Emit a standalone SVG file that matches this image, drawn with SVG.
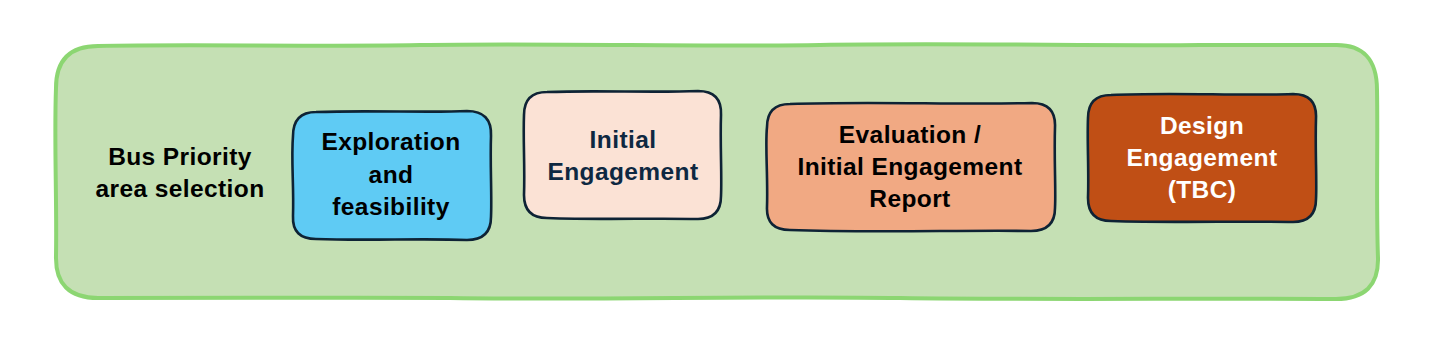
<svg xmlns="http://www.w3.org/2000/svg" width="1440" height="360" viewBox="0 0 1440 360">
<style>
.frame{fill:#C5E0B4;stroke:#8CD672;stroke-width:4;stroke-linejoin:round}
.box{stroke:#0E2335;stroke-width:2.6;stroke-linejoin:round}
.t{font-family:"Liberation Sans",Arial,sans-serif;font-weight:bold;font-size:24.5px;letter-spacing:0.4px;text-anchor:middle}
.dark{fill:#000000}
.navy{fill:#0E2841}
.white{fill:#FFFFFF}
</style>
<rect width="1440" height="360" fill="#FFFFFF"/>
<g id="container">
<path class="frame" d="M98,46 C200,44 300,47 420,45 C560,43 700,47 820,45 C950,43 1100,46 1200,45 L1335,45 Q1377,44 1377,90 C1378,140 1376,200 1378,258 Q1379,299 1336,299 C1200,298 1050,300 900,298 C750,296 600,300 450,298 C330,297 200,299 98,298 Q55,298 56,256 C57,200 54,140 56,88 Q56,46 98,46 Z"/>
</g>
<g id="label-bus-priority">
<text class="t dark" x="180" y="165">Bus Priority</text>
<text class="t dark" x="180" y="197">area selection</text>
</g>
<g id="node-exploration">
<path class="box" fill="#5FCBF4" d="M316,112 C370,110 430,113 467,111 Q492,111 491,136 C490,165 492,195 491,217 Q491,240 467,240 C420,238 370,241 316,239 Q292,239 293,216 C294,185 291,160 293,136 Q293,112 316,112 Z"/>
<text class="t dark" x="391" y="150">Exploration</text>
<text class="t dark" x="391" y="183">and</text>
<text class="t dark" x="391" y="215">feasibility</text>
</g>
<g id="node-initial-engagement">
<path class="box" fill="#FBE2D5" d="M547,92 C600,90 650,93 698,91 Q722,91 721,115 C720,145 722,175 721,196 Q721,219 698,219 C650,218 600,220 547,218 Q524,218 524,195 C525,165 523,140 524,115 Q524,92 547,92 Z"/>
<text class="t navy" x="623" y="148">Initial</text>
<text class="t navy" x="623" y="180">Engagement</text>
</g>
<g id="node-evaluation">
<path class="box" fill="#F1A983" d="M790,104 C870,101 960,105 1032,103 Q1056,103 1055,127 C1054,160 1056,190 1055,208 Q1055,231 1031,231 C960,230 870,233 790,230 Q766,230 767,207 C768,175 765,145 767,127 Q767,104 790,104 Z"/>
<text class="t dark" x="910" y="143">Evaluation /</text>
<text class="t dark" x="910" y="175">Initial Engagement</text>
<text class="t dark" x="910" y="207">Report</text>
</g>
<g id="node-design">
<path class="box" fill="#C04F15" d="M1111,95 C1170,92 1240,96 1293,94 Q1317,94 1316,118 C1315,150 1317,180 1316,199 Q1316,222 1293,222 C1240,221 1170,223 1111,221 Q1088,221 1088,198 C1089,170 1087,140 1088,118 Q1088,95 1111,95 Z"/>
<text class="t white" x="1202" y="134">Design</text>
<text class="t white" x="1202" y="166">Engagement</text>
<text class="t white" x="1202" y="198">(TBC)</text>
</g>
<g id="connectors"></g>
</svg>
